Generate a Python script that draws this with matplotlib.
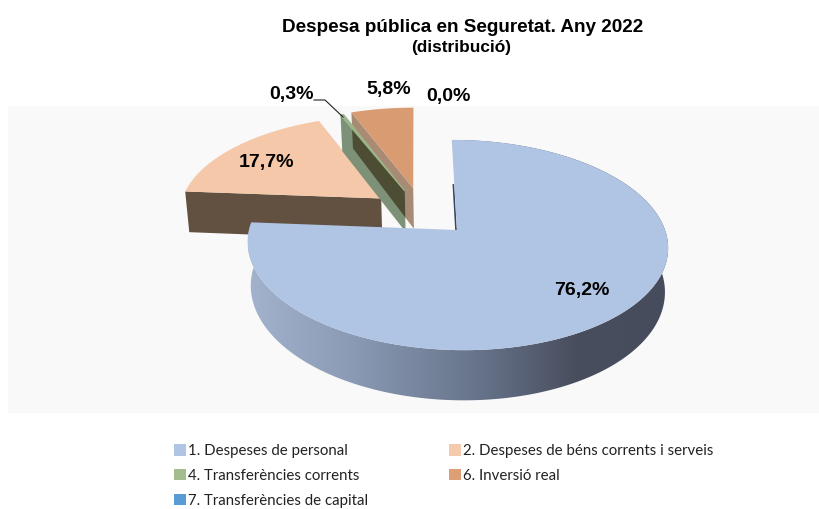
import numpy as np
import matplotlib
matplotlib.use("Agg")
import matplotlib.pyplot as plt
from matplotlib.colors import LinearSegmentedColormap
from matplotlib.patches import Patch, Polygon, Rectangle

categories = ["1. Despeses de personal", "2. Despeses de béns corrents i serveis",
              "4. Transferències corrents", "6. Inversió real",
              "7. Transferències de capital"]
values = [76.2, 17.7, 0.3, 5.8, 0.0]
colors = ["#b0c4e3", "#f4c8a9", "#9bb58a", "#d99c72", "#5b9bd5"]
legend_colors = ["#b0c4e3", "#f6cbad", "#a3bd8f", "#dd9f76", "#5b9bd5"]

# pie geometry in pixels, circle plane seen with a bit of perspective
CX, CY = 457, 230
RX, RY = 208, 103
K = 1 / 7
SKEW = -6
DEPTH = 43
SHRINK = 0.985  # the underside of the pie looks a bit narrower
# explosion of each slice in the unit circle plane
explode = [(0, 0), (-0.372, 0.32), (-0.254, 0.40), (-0.211, 0.43), (0, 0)]


def project(u, v):
    w = 1 + K * v
    return CX + (RX * u + SKEW * v) / w, CY - RY * v / w, DEPTH / w


def wedge(a0, a1, off, n=120):
    # angles clockwise from north, in degrees
    a = np.radians(np.linspace(a0, a1, n))
    return project(np.sin(a) + off[0], np.cos(a) + off[1])


def under(x):
    return CX + (x - CX) * SHRINK


fig = plt.figure(figsize=(8.19, 5.09), dpi=100)
ax = fig.add_axes([0, 0, 1, 1])
ax.axis("off")
ax.add_patch(Rectangle((8, 106), 811, 307, fc="#f9f9f9", ec="none", zorder=0))

edges = np.concatenate([[0], np.cumsum(values) / sum(values) * 360])


def face(off, a0, a1):
    x, y, d = wedge(a0, a1, off)
    ax0, ay0, _ = project(*off)
    return np.r_[ax0, x], np.r_[ay0, y]


def cut_wall(off, a):
    # flat wall from the rim to the centre of the slice
    ox, oy, od = project(off[0] + np.sin(np.radians(a)), off[1] + np.cos(np.radians(a)))
    cx, cy, cd = project(*off)
    return np.array([[ox, oy], [cx, cy], [under(cx), cy + cd], [under(ox), oy + od]])


# peach slice
ax.add_patch(Polygon(cut_wall(explode[1], edges[1]), fc="#625041", ec="none", zorder=2))
fx, fy = face(explode[1], edges[1], edges[2])
ax.fill(fx, fy, color=colors[1], lw=0, zorder=3)

# orange slice
orange_wall = cut_wall(explode[3], edges[3])
ax.add_patch(Polygon(orange_wall, fc="#a88b74", ec="none", zorder=4))
fx, fy = face(explode[3], edges[3], edges[4])
ax.fill(fx, fy, color=colors[3], lw=0, zorder=5)

# green slice, see-through where it crosses the orange wall
green_wall = Polygon(cut_wall(explode[2], edges[2]), fc="#7d9178", ec="none", zorder=6)
ax.add_patch(green_wall)
overlap = Polygon(orange_wall, fc="#4c4d33", ec="none", zorder=7)
ax.add_patch(overlap)
overlap.set_clip_path(green_wall)
fx, fy = face(explode[2], edges[2], edges[3])
ax.fill(fx, fy, color=colors[2], lw=0.8, zorder=8)

# big slice, rim with a left to right gradient
x, y, d = wedge(edges[0], edges[1], explode[0], n=300)
cmap = LinearSegmentedColormap.from_list(
    "rim", [(0, "#a3b3cd"), (0.25, "#8a9ab4"), (0.55, "#66738a"),
            (0.78, "#494e5e"), (1, "#474c5c")])
# skip the first rim points, they would peek out at the back of the cut
rim_x, rim_y, rim_d = x[4:], y[4:], d[4:]
rim = Polygon(np.c_[np.r_[rim_x, under(rim_x)[::-1]], np.r_[rim_y, (rim_y + rim_d)[::-1]]],
              fc="none", ec="none")
ax.add_patch(rim)
grad = ax.imshow(np.linspace(0, 1, 256)[None, :], cmap=cmap, aspect="auto",
                 extent=(x.min(), x.max(), 420, 120), zorder=9)
grad.set_clip_path(rim)
ax0, ay0, _ = project(*explode[0])
ax.plot([(x[0] + ax0) / 2 - 1, ax0 - 1], [(y[0] + ay0) / 2, ay0], color="#3c4763", lw=1.2, zorder=10)
ax.fill(np.r_[ax0, x], np.r_[ay0, y], color=colors[0], lw=0, zorder=11)

ax.set_xlim(0, 819)
ax.set_ylim(509, 0)

# labels
labels = [f"{v:.1f}%".replace(".", ",") for v in values]
label_pos = [(582, 291), (266, 162), (291, 94), (389, 89), (448, 96)]
for lab, (lx, ly) in zip(labels, label_pos):
    ax.text(lx, ly, lab, ha="center", va="center", fontsize=14, fontweight="bold",
            family="Liberation Sans", color="black", zorder=20)
ax.plot([314, 325, 343], [100, 100, 117], color="#222222", lw=0.8, zorder=20)

ax.text(463, 27, "Despesa pública en Seguretat. Any 2022", ha="center", va="center",
        fontsize=13.6, fontweight="bold", family="Liberation Sans")
ax.text(461, 47, "(distribució)", ha="center", va="center",
        fontsize=12.4, fontweight="bold", family="Liberation Sans")

# legend, filled column by column
order = [0, 2, 4, 1, 3]
handles = [Patch(fc=legend_colors[i], ec="none", label=categories[i]) for i in order]
ax.legend(handles=handles, ncol=2, loc="upper left", bbox_to_anchor=(174 / 819, 1 - 444 / 509),
          frameon=False, prop={"family": "Lato", "size": 10.8},
          handlelength=0.8, handleheight=0.8, handletextpad=0.12,
          labelspacing=0.72, columnspacing=5.4, borderpad=0, borderaxespad=0,
          labelcolor="#222222")

fig.savefig("out.png", dpi=100)
